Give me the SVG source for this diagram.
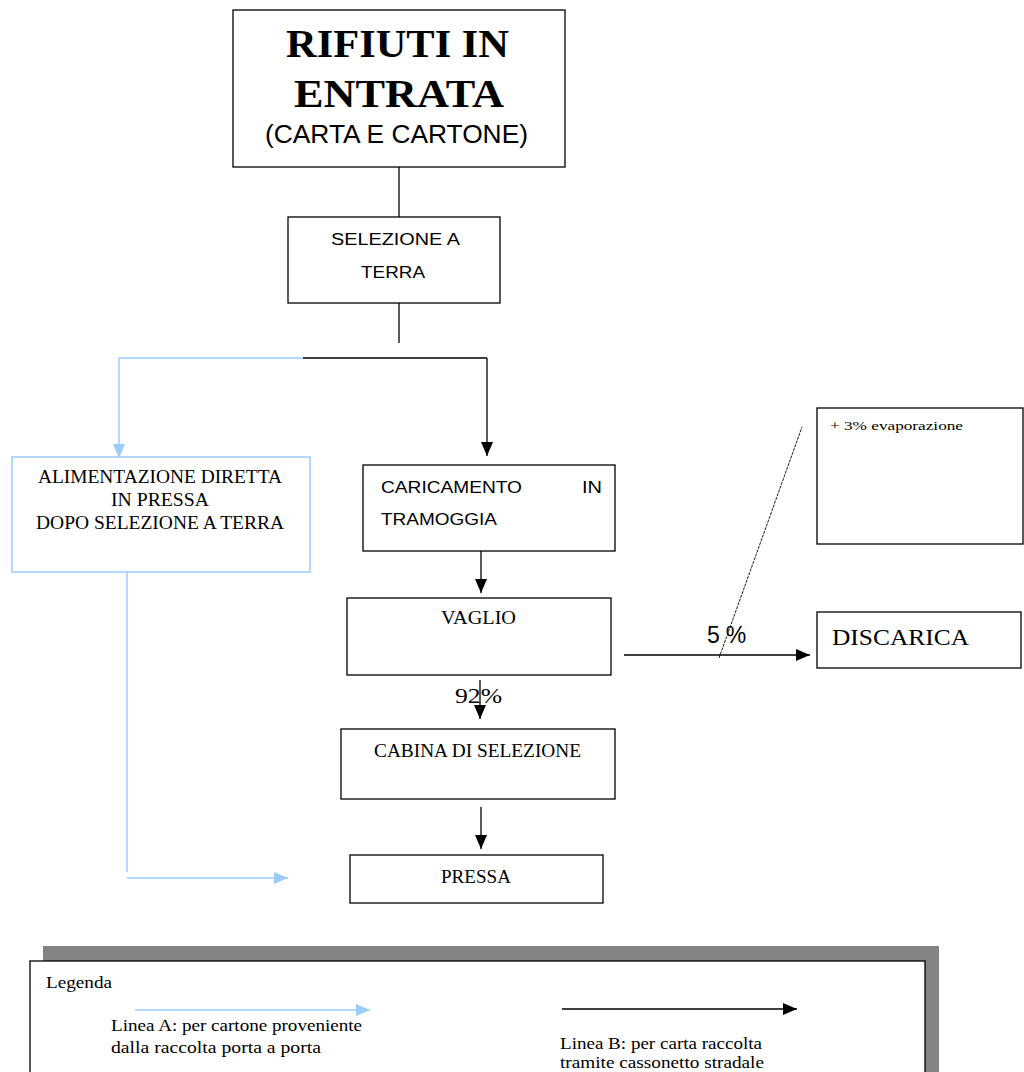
<svg xmlns="http://www.w3.org/2000/svg" width="1024" height="1072" viewBox="0 0 1024 1072">
<style>
.box{fill:#fff;stroke:#000;stroke-width:1.3}
.bbox{fill:#fff;stroke:#99ccff;stroke-width:1.5}
.ln{stroke:#000;stroke-width:1.3;fill:none}
.bl{stroke:#99ccff;stroke-width:1.5;fill:none}
.serif{font-family:"Liberation Serif","Times New Roman",serif;fill:#000}
.sans{font-family:"Liberation Sans",Arial,sans-serif;fill:#000}
</style>
<defs>
<marker id="ab2" viewBox="0 0 14 12" refX="14" refY="6" markerWidth="14" markerHeight="12" markerUnits="userSpaceOnUse" orient="auto">
<path d="M0,0 L14,6 L0,12 Z" fill="#000"/>
</marker>
<marker id="ablue2" viewBox="0 0 14 12" refX="14" refY="6" markerWidth="14" markerHeight="12" markerUnits="userSpaceOnUse" orient="auto">
<path d="M0,0 L14,6 L0,12 Z" fill="#99ccff"/>
</marker>
</defs>
<rect width="1024" height="1072" fill="#fff"/>

<g id="connectors">
<line class="ln" x1="399" y1="167" x2="399" y2="217"/>
<line class="ln" x1="399" y1="303" x2="399" y2="343"/>
<line class="bl" x1="119" y1="358" x2="303" y2="358"/>
<line class="ln" x1="303" y1="358" x2="487" y2="358"/>
<line class="ln" x1="487" y1="358" x2="487" y2="456" marker-end="url(#ab2)"/>
<line class="bl" x1="119" y1="358" x2="119" y2="458" marker-end="url(#ablue2)"/>
<line class="ln" x1="481" y1="551" x2="481" y2="593" marker-end="url(#ab2)"/>
<line class="ln" x1="480" y1="680" x2="480" y2="719" marker-end="url(#ab2)"/>
<line class="ln" x1="481" y1="807" x2="481" y2="849" marker-end="url(#ab2)"/>
<polyline class="bl" points="127,572 127,872"/>
<line class="bl" x1="127" y1="878" x2="288" y2="878" marker-end="url(#ablue2)"/>
<line class="ln" x1="624" y1="655" x2="810" y2="655" marker-end="url(#ab2)"/>
<line x1="719" y1="658" x2="802" y2="427" stroke="#000" stroke-width="0.9" stroke-dasharray="3,1"/>
</g>

<g id="n-rifiuti">
<rect class="box" x="233" y="10" width="332" height="157"/>
<text class="serif" x="286" y="57" font-size="41" font-weight="bold" textLength="223" lengthAdjust="spacingAndGlyphs">RIFIUTI IN</text>
<text class="serif" x="294" y="107" font-size="41" font-weight="bold" textLength="210" lengthAdjust="spacingAndGlyphs">ENTRATA</text>
<text class="sans" x="265" y="143" font-size="25" textLength="263" lengthAdjust="spacingAndGlyphs">(CARTA E CARTONE)</text>
</g>

<g id="n-selezione">
<rect class="box" x="288" y="217" width="212" height="86"/>
<text class="sans" x="331" y="245" font-size="16" textLength="129" lengthAdjust="spacingAndGlyphs">SELEZIONE A</text>
<text class="sans" x="361" y="278" font-size="16" textLength="64" lengthAdjust="spacingAndGlyphs">TERRA</text>
</g>

<g id="n-alimentazione">
<rect class="bbox" x="12" y="457" width="298" height="115"/>
<text class="serif" x="38" y="483" font-size="18" textLength="244" lengthAdjust="spacingAndGlyphs">ALIMENTAZIONE DIRETTA</text>
<text class="serif" x="111" y="506" font-size="18" textLength="98" lengthAdjust="spacingAndGlyphs">IN PRESSA</text>
<text class="serif" x="36" y="529" font-size="18" textLength="248" lengthAdjust="spacingAndGlyphs">DOPO SELEZIONE A TERRA</text>
</g>

<g id="n-caricamento">
<rect class="box" x="363" y="465" width="252" height="86"/>
<text class="sans" x="381" y="493" font-size="16" textLength="141" lengthAdjust="spacingAndGlyphs">CARICAMENTO</text>
<text class="sans" x="582" y="493" font-size="16" textLength="20" lengthAdjust="spacingAndGlyphs">IN</text>
<text class="sans" x="381" y="525" font-size="16" textLength="116" lengthAdjust="spacingAndGlyphs">TRAMOGGIA</text>
</g>

<g id="n-vaglio">
<rect class="box" x="347" y="598" width="264" height="77"/>
<text class="serif" x="441" y="624" font-size="18" textLength="75" lengthAdjust="spacingAndGlyphs">VAGLIO</text>
</g>

<g id="l-92">
<text class="serif" x="455" y="703" font-size="21" textLength="47" lengthAdjust="spacingAndGlyphs">92%</text>
</g>

<g id="n-cabina">
<rect class="box" x="341" y="729" width="274" height="70"/>
<text class="serif" x="374" y="757" font-size="18" textLength="207" lengthAdjust="spacingAndGlyphs">CABINA DI SELEZIONE</text>
</g>

<g id="n-pressa">
<rect class="box" x="350" y="855" width="253" height="48"/>
<text class="serif" x="441" y="883" font-size="18" textLength="70" lengthAdjust="spacingAndGlyphs">PRESSA</text>
</g>

<g id="l-5">
<text class="sans" x="707" y="643" font-size="23" letter-spacing="6">5%</text>
</g>

<g id="n-evaporazione">
<rect class="box" x="817" y="408" width="206" height="136"/>
<text class="serif" x="830" y="430" font-size="12" textLength="133" lengthAdjust="spacingAndGlyphs">+ 3% evaporazione</text>
</g>

<g id="n-discarica">
<rect class="box" x="817" y="612" width="204" height="56"/>
<text class="serif" x="832" y="645" font-size="23" textLength="137" lengthAdjust="spacingAndGlyphs">DISCARICA</text>
</g>

<g id="legend">
<rect x="43" y="946" width="896" height="130" fill="#858285"/>
<rect class="box" x="30" y="961" width="895" height="120"/>
<text class="serif" x="46" y="988" font-size="16" textLength="66" lengthAdjust="spacingAndGlyphs">Legenda</text>
<line class="bl" x1="135" y1="1010" x2="370" y2="1010" stroke-width="2" marker-end="url(#ablue2)"/>
<text class="serif" x="111" y="1031" font-size="16" textLength="251" lengthAdjust="spacingAndGlyphs">Linea A: per cartone proveniente</text>
<text class="serif" x="111" y="1053" font-size="16" textLength="210" lengthAdjust="spacingAndGlyphs">dalla raccolta porta a porta</text>
<line class="ln" x1="562" y1="1009" x2="797" y2="1009" stroke-width="2" marker-end="url(#ab2)"/>
<text class="serif" x="560" y="1049" font-size="16" textLength="202" lengthAdjust="spacingAndGlyphs">Linea B: per carta raccolta</text>
<text class="serif" x="560" y="1068" font-size="16" textLength="204" lengthAdjust="spacingAndGlyphs">tramite cassonetto stradale</text>
</g>
</svg>
